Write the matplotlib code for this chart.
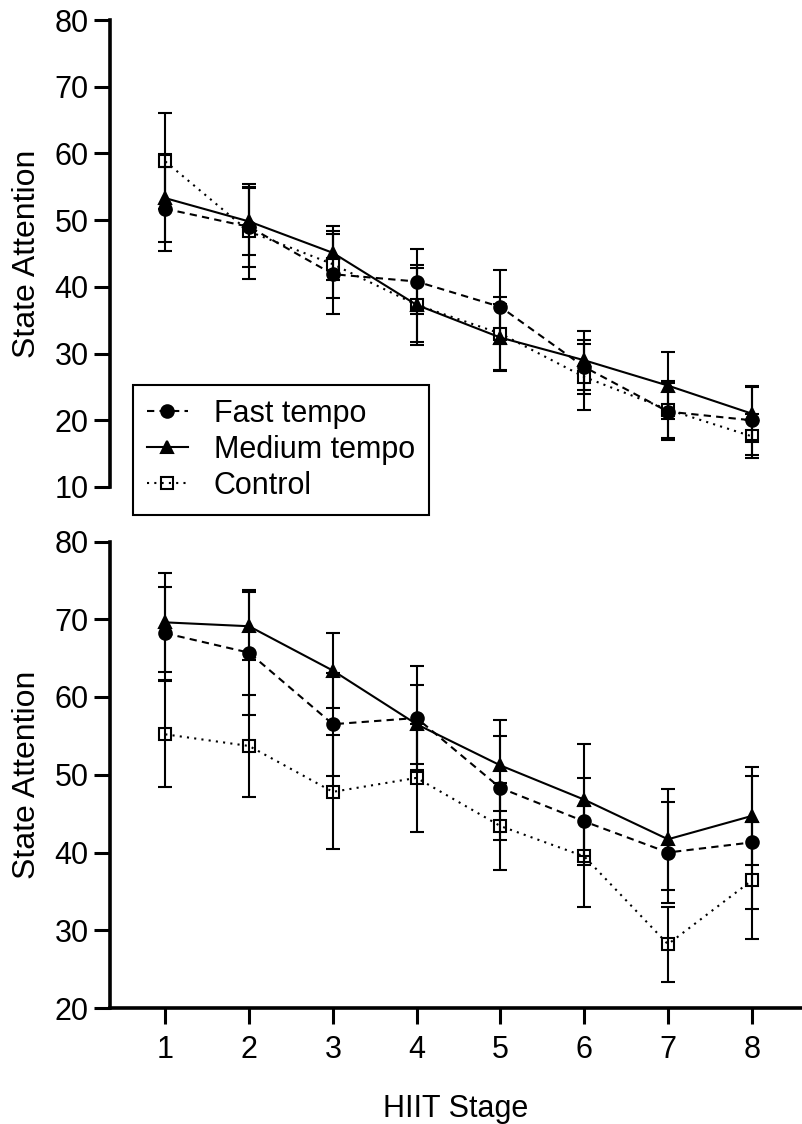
import matplotlib.pyplot as plt

plt.rcParams['font.family'] = ['Liberation Sans', 'DejaVu Sans']

# HIIT stages on the x axis
stages = [1, 2, 3, 4, 5, 6, 7, 8]
series_names = ['Fast tempo', 'Medium tempo', 'Control']

# top panel: means and SDs
top_fast = [51.7, 49.0, 41.9, 40.8, 37.0, 28.0, 21.3, 20.0]
top_fast_sd = [6.3, 6.0, 6.0, 4.8, 5.6, 4.0, 4.3, 5.2]
top_medium = [53.3, 49.8, 45.1, 37.3, 32.4, 29.0, 25.2, 21.0]
top_medium_sd = [6.6, 5.0, 4.0, 5.5, 5.0, 4.4, 5.0, 4.0]
top_control = [58.8, 48.3, 43.4, 37.3, 33.0, 26.5, 21.6, 17.6]
top_control_sd = [7.2, 7.1, 5.0, 6.0, 5.5, 5.0, 4.3, 3.3]

# bottom panel: means and SDs
bot_fast = [68.2, 65.7, 56.5, 57.3, 48.3, 44.0, 40.0, 41.3]
bot_fast_sd = [6.0, 8.0, 6.6, 6.7, 6.7, 5.6, 6.5, 8.6]
bot_medium = [69.6, 69.1, 63.4, 56.5, 51.2, 46.8, 41.7, 44.7]
bot_medium_sd = [6.4, 4.4, 4.8, 5.1, 5.9, 7.2, 6.5, 6.3]
bot_control = [55.2, 53.7, 47.8, 49.6, 43.4, 39.5, 28.2, 36.4]
bot_control_sd = [6.8, 6.5, 7.3, 6.9, 5.6, 6.5, 4.8, 7.5]

top_yticks = [10, 20, 30, 40, 50, 60, 70, 80]
bot_yticks = [20, 30, 40, 50, 60, 70, 80]

styles = [
    dict(marker='o', linestyle=(0, (3.5, 2.5)), mfc='black', ms=9),
    dict(marker='^', linestyle='-', mfc='black', ms=9),
    dict(marker='s', linestyle=(0, (1, 2.5)), mfc='none', ms=9),
]

W, H = 802, 1124
fig = plt.figure(figsize=(W / 100, H / 100), dpi=100)
ax_top = fig.add_axes([110 / W, 1 - 487 / H, (W - 110) / W, 467 / H])
ax_bot = fig.add_axes([110 / W, 1 - 1008 / H, (W - 110) / W, 466.5 / H])


def draw_panel(ax, means, sds):
    handles = []
    for m, s, st, name in zip(means, sds, styles, series_names):
        cont = ax.errorbar(stages, m, yerr=s, color='black', lw=1.5,
                           marker=st['marker'], linestyle=st['linestyle'],
                           markerfacecolor=st['mfc'], markeredgecolor='black',
                           markeredgewidth=1.5, markersize=st['ms'],
                           capsize=5, capthick=1.5, elinewidth=1.5, label=name)
        handles.append(cont.lines[0])
    return handles


handles = draw_panel(ax_top, [top_fast, top_medium, top_control],
                     [top_fast_sd, top_medium_sd, top_control_sd])
draw_panel(ax_bot, [bot_fast, bot_medium, bot_control],
           [bot_fast_sd, bot_medium_sd, bot_control_sd])

for ax in (ax_top, ax_bot):
    ax.set_xlim(0.34, 8.6)
    for side in ('top', 'right'):
        ax.spines[side].set_visible(False)
    for side in ('left', 'bottom'):
        ax.spines[side].set_linewidth(2.6)
    ax.tick_params(labelsize=22, length=11.5, width=2.2, pad=4)
    ax.set_ylabel('State Attention', fontsize=23)
    ax.yaxis.set_label_coords(-0.098, 0.5)

ax_top.set_ylim(10, 80)
ax_top.set_yticks(top_yticks)
ax_top.spines['bottom'].set_visible(False)
ax_top.set_xticks([])

ax_bot.set_ylim(20, 80)
ax_bot.set_yticks(bot_yticks)
ax_bot.set_xticks(stages)
ax_bot.tick_params(axis='x', pad=8)
ax_bot.set_xlabel('HIIT Stage', fontsize=22)
ax_bot.xaxis.set_label_coords(0.5, -0.184)

leg = fig.legend(handles, series_names, loc='upper left',
                 bbox_to_anchor=(133 / W, 1 - 385 / H),
                 bbox_transform=fig.transFigure, borderaxespad=0,
                 fontsize=22, frameon=True, fancybox=False, framealpha=1,
                 edgecolor='black', handlelength=1.35, handletextpad=0.85,
                 labelspacing=0.2, borderpad=0.45)
leg.get_frame().set_linewidth(1.5)

fig.savefig('out.png', dpi=100)
